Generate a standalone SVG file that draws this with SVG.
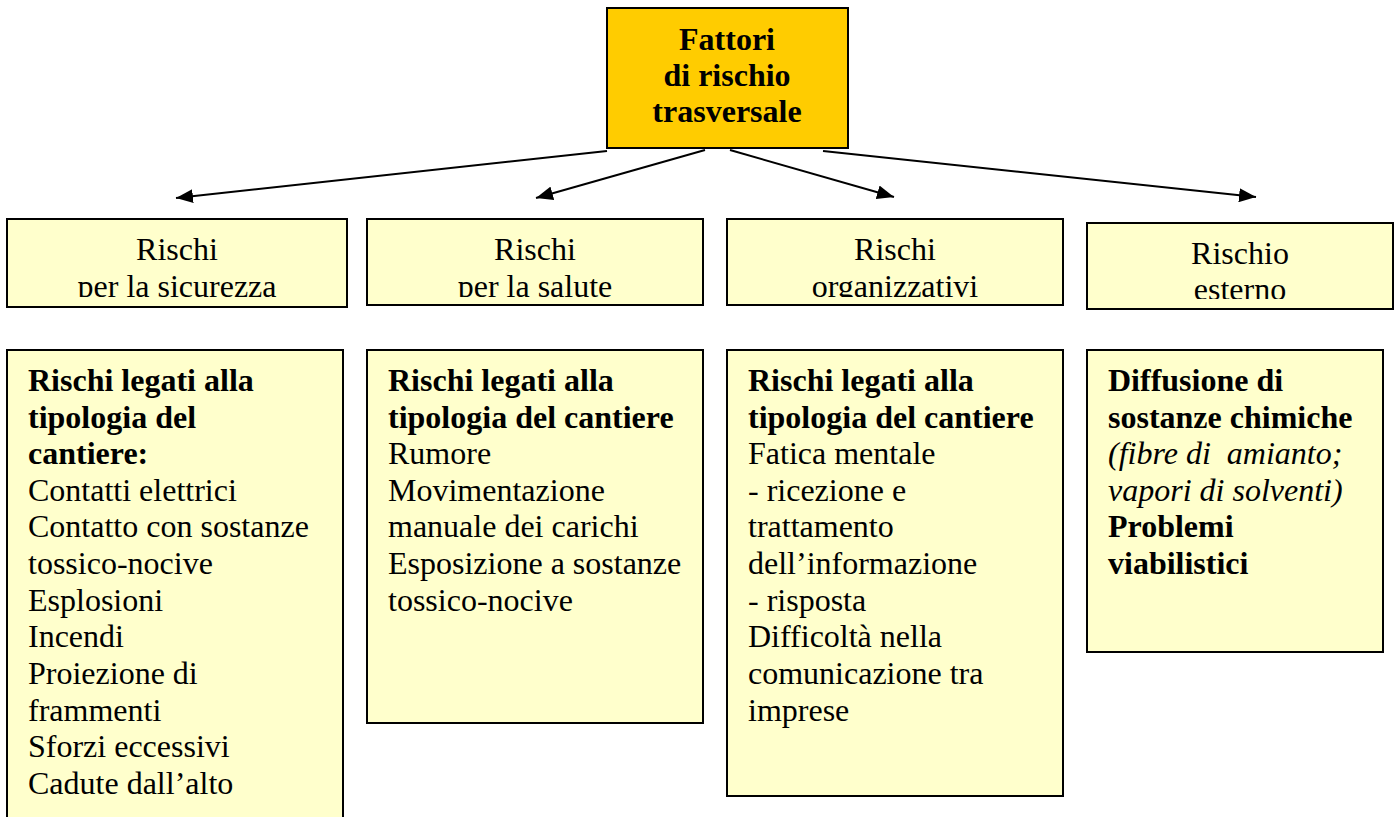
<svg xmlns="http://www.w3.org/2000/svg" width="1397" height="817" viewBox="0 0 1397 817">
<style>
.box{fill:#FFFFCC;stroke:#000;stroke-width:2}
.top{fill:#FFCC00;stroke:#000;stroke-width:2}
text{font-family:"Liberation Serif","Times New Roman",serif;font-size:32px;fill:#000}
.b{font-weight:bold}
.i{font-style:italic}
.c{text-anchor:middle}
.conn{stroke:#000;stroke-width:2;fill:none}
</style>
<defs>
<marker id="ah" viewBox="0 0 10 10" refX="10" refY="5" markerWidth="17" markerHeight="14" markerUnits="userSpaceOnUse" orient="auto" preserveAspectRatio="none">
<path d="M0,0 L10,5 L0,10 z" fill="#000"/>
</marker>
<clipPath id="c1"><rect x="7" y="219" width="340" height="78"/></clipPath>
<clipPath id="c2"><rect x="367" y="219" width="336" height="78"/></clipPath>
<clipPath id="c3"><rect x="727" y="219" width="336" height="78"/></clipPath>
<clipPath id="c4"><rect x="1087" y="223" width="306" height="76"/></clipPath>
</defs>
<g id="connectors">
<line class="conn" x1="607" y1="151" x2="176" y2="198" marker-end="url(#ah)"/>
<line class="conn" x1="705" y1="150" x2="536" y2="198" marker-end="url(#ah)"/>
<line class="conn" x1="730" y1="150" x2="894" y2="197" marker-end="url(#ah)"/>
<line class="conn" x1="823" y1="151" x2="1256" y2="197" marker-end="url(#ah)"/>
</g>
<g id="root">
<rect class="top" x="607" y="8" width="241" height="140"/>
<text class="b c" x="727" y="50">Fattori</text>
<text class="b c" x="727" y="86">di rischio</text>
<text class="b c" x="727" y="122">trasversale</text>
</g>
<g id="h1">
<rect class="box" x="7" y="219" width="340" height="88"/>
<g clip-path="url(#c1)">
<text class="c" x="177" y="260">Rischi</text>
<text class="c" x="177" y="297">per la sicurezza</text>
</g>
</g>
<g id="h2">
<rect class="box" x="367" y="219" width="336" height="86"/>
<g clip-path="url(#c2)">
<text class="c" x="535" y="260">Rischi</text>
<text class="c" x="535" y="297">per la salute</text>
</g>
</g>
<g id="h3">
<rect class="box" x="727" y="219" width="336" height="86"/>
<g clip-path="url(#c3)">
<text class="c" x="895" y="260">Rischi</text>
<text class="c" x="895" y="297">organizzativi</text>
</g>
</g>
<g id="h4">
<rect class="box" x="1087" y="223" width="306" height="86"/>
<g clip-path="url(#c4)">
<text class="c" x="1240" y="264">Rischio</text>
<text class="c" x="1240" y="300">esterno</text>
</g>
</g>
<g id="d1">
<rect class="box" x="7" y="350" width="336" height="490"/>
<text x="28" y="391" class="b">Rischi legati alla</text>
<text x="28" y="428" class="b">tipologia del</text>
<text x="28" y="464" class="b">cantiere:</text>
<text x="28" y="501">Contatti elettrici</text>
<text x="28" y="537">Contatto con sostanze</text>
<text x="28" y="574">tossico-nocive</text>
<text x="28" y="611">Esplosioni</text>
<text x="28" y="647">Incendi</text>
<text x="28" y="684">Proiezione di</text>
<text x="28" y="721">frammenti</text>
<text x="28" y="757">Sforzi eccessivi</text>
<text x="28" y="794">Cadute dall’alto</text>
</g>
<g id="d2">
<rect class="box" x="367" y="350" width="336" height="373"/>
<text x="388" y="391" class="b">Rischi legati alla</text>
<text x="388" y="428" class="b">tipologia del cantiere</text>
<text x="388" y="464">Rumore</text>
<text x="388" y="501">Movimentazione</text>
<text x="388" y="537">manuale dei carichi</text>
<text x="388" y="574">Esposizione a sostanze</text>
<text x="388" y="611">tossico-nocive</text>
</g>
<g id="d3">
<rect class="box" x="727" y="350" width="336" height="446"/>
<text x="748" y="391" class="b">Rischi legati alla</text>
<text x="748" y="428" class="b">tipologia del cantiere</text>
<text x="748" y="464">Fatica mentale</text>
<text x="748" y="501">- ricezione e</text>
<text x="748" y="537">trattamento</text>
<text x="748" y="574">dell’informazione</text>
<text x="748" y="611">- risposta</text>
<text x="748" y="647">Difficoltà nella</text>
<text x="748" y="684">comunicazione tra</text>
<text x="748" y="721">imprese</text>
</g>
<g id="d4">
<rect class="box" x="1087" y="350" width="296" height="302"/>
<text x="1108" y="391" class="b">Diffusione di</text>
<text x="1108" y="428" class="b">sostanze chimiche</text>
<text x="1108" y="464" class="i" xml:space="preserve">(fibre di  amianto;</text>
<text x="1108" y="501" class="i">vapori di solventi)</text>
<text x="1108" y="537" class="b">Problemi</text>
<text x="1108" y="574" class="b">viabilistici</text>
</g>
</svg>
